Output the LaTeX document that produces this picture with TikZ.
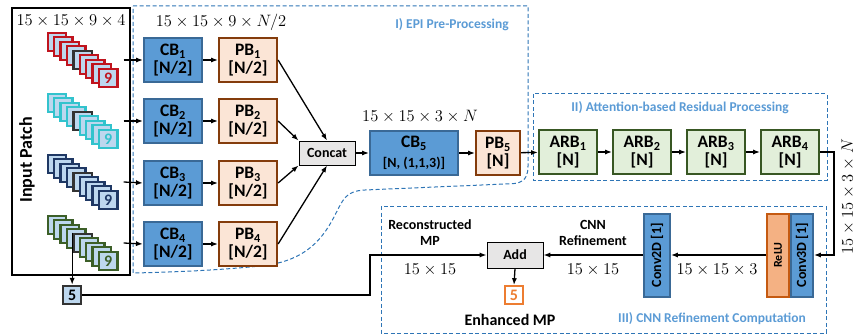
\documentclass[tikz,border=0pt]{standalone}
\usepackage{fix-cm}
\usepackage[no-math]{fontspec}
\setmainfont{Carlito}
\usetikzlibrary{arrows.meta,calc,positioning}
\definecolor{cbblue}{RGB}{91,155,213}
\definecolor{cbedge}{RGB}{58,105,150}
\definecolor{pbpeach}{RGB}{251,229,214}
\definecolor{pbbrown}{RGB}{132,60,12}
\definecolor{arbgreen}{RGB}{226,239,218}
\definecolor{arbedge}{RGB}{56,87,35}
\definecolor{relufill}{RGB}{244,177,131}
\definecolor{reluedge}{RGB}{197,90,17}
\definecolor{opgray}{RGB}{231,230,230}
\definecolor{regionblue}{RGB}{46,117,182}
\definecolor{labelblue}{RGB}{91,155,213}
\definecolor{viewfill}{RGB}{189,215,238}
\definecolor{stackred}{RGB}{192,20,30}
\definecolor{stackcyan}{RGB}{50,195,205}
\definecolor{stacknavy}{RGB}{31,56,100}
\definecolor{stackgreen}{RGB}{60,95,40}
\definecolor{outorange}{RGB}{237,125,49}
\tikzset{
  flow/.style={-{Latex[length=2.4mm,width=1.8mm]},line width=1.3pt},
  block/.style={line width=2.2pt,minimum width=58pt,minimum height=44pt,inner sep=1pt,
                align=center,font=\fontsize{17.5}{17.5}\selectfont\bfseries},
  convblock/.style={block,fill=cbblue,draw=cbedge},
  poolblock/.style={block,fill=pbpeach,draw=pbbrown},
  resblock/.style={block,fill=arbgreen,draw=arbedge},
  opbox/.style={draw=black,line width=1pt,fill=opgray,minimum width=56pt,minimum height=24pt,
                font=\fontsize{14}{14}\selectfont\bfseries},
  region/.style={draw=regionblue,line width=1pt,dash pattern=on 4pt off 2.5pt},
  regionlab/.style={text=labelblue,font=\fontsize{13.5}{13.5}\selectfont\bfseries},
  dimlab/.style={font=\fontsize{16.5}{16.5}\selectfont},
  txtlab/.style={align=center,font=\fontsize{14}{16}\selectfont\bfseries},
  view/.style={draw=#1,line width=2.4pt,fill=viewfill,minimum size=18.5pt,inner sep=0pt},
  vertblock/.style={line width=2pt,minimum width=22pt,minimum height=83pt,inner sep=0pt,
                    font=\fontsize{14}{14}\selectfont\bfseries},
}

\begin{document}
\begin{tikzpicture}[x=1pt,y=-1pt]
  \useasboundingbox (0,0) rectangle (864,334);

  % input patch frame
  \node[draw,line width=1.3pt,minimum width=118pt,minimum height=267pt,inner sep=0pt] (patch) at (71,141.5) {};
  \node[dimlab] (patchdim) at (71,21) {$15\times15\times9\times4$};
  \node[rotate=90,font=\fontsize{18}{18}\selectfont\bfseries] (patchlab) at (27,160) {Input Patch};

  % EPI pre-processing rows
  \draw[region] (133,6) -- (528,6) -- (528,166) .. controls (528,182) and (520,184) .. (505,184)
    -- (365,190) .. controls (345,191) and (343,200) .. (335,215)
    .. controls (320,245) and (300,262) .. (260,266)
    .. controls (220,270) and (180,272) .. (133,273) -- cycle;
  \node[regionlab] (epilab) at (452,25) {I) EPI Pre-Processing};
  \node[dimlab] (rowdim) at (221,22) {$15\times15\times9\times N/2$};

  \foreach \k/\y in {1/60,2/121,3/183,4/244}{
    \node[convblock] (cb\k) at (173,\y) {CB\textsubscript{\k}\\{[N/2]}};
    \node[poolblock] (pb\k) at (248,\y) {PB\textsubscript{\k}\\{[N/2]}};
    \draw[flow] (cb\k) -- (pb\k);
  }

  \node[opbox] (concat) at (327,153) {Concat};
  \draw[flow] (pb1.east) -- (concat.north);
  \draw[flow] (pb2.east) -- (concat.north west);
  \draw[flow] (pb3.east) -- (concat.south west);
  \draw[flow] (pb4.east) -- (concat.south);

  \node[convblock,minimum width=88pt] (cb5) at (414,153)
    {CB\textsubscript{5}\\[2pt]{\fontsize{14}{14}\selectfont[N, (1,1,3)]}};
  \node[poolblock,minimum width=44pt] (pb5) at (498,153) {PB\textsubscript{5}\\{[N]}};
  \node[dimlab] (cbdim) at (420,117) {$15\times15\times3\times N$};
  \draw[flow] (concat) -- (cb5);
  \draw[flow] (cb5) -- (pb5);

  % light-field view stacks
  \foreach \n/\c/\yy/\k in {red/stackred/42/1, cyan/stackcyan/103/2,
                            navy/stacknavy/164/3, green/stackgreen/225/4}{
    \foreach \i in {0,...,8}{
      \ifnum\i=4 \def\e{black!80}\else\edef\e{\c}\fi
      \node[view=\e] (\n\i) at (57+6.4*\i,\yy+4.5*\i) {};
    }
    \node[text=\c,font=\fontsize{16}{16}\selectfont\bfseries] (\n nine) at (\n8) {9};
    \draw[flow] ([xshift=5pt]\n4 -| \n8.east) -- (cb\k.west);
  }

  % centre view
  \node[view=black!80,minimum size=18pt,font=\fontsize{16}{16}\selectfont\bfseries] (center5)
    at (green4.west |- 0,295) {5};
  \draw[flow] (green4.north west) -- (center5);

  % attention-based residual blocks
  \draw[region] (533,94) rectangle (827,180);
  \node[regionlab] (arblab) at (680,108) {II) Attention-based Residual Processing};
  \foreach \k/\x in {1/568,2/642,3/716,4/790}{
    \node[resblock] (arb\k) at (\x,152) {ARB\textsubscript{\k}\\{[N]}};
  }
  \draw[flow] (pb5) -- (arb1);
  \foreach \a/\b in {1/2,2/3,3/4}
    \draw[flow] (arb\a) -- (arb\b);

  % CNN refinement
  \draw[region] (381,206) rectangle (826,333);
  \node[regionlab] (cnnlab) at (712,319) {III) CNN Refinement Computation};
  \node[vertblock,fill=cbblue,draw=cbedge] (conv3d) at (802,255) {\rotatebox{90}{Conv3D [1]}};
  \node[vertblock,fill=relufill,draw=reluedge,font=\fontsize{12}{12}\selectfont\bfseries,
        left=0pt of conv3d] (relu) {\rotatebox{90}{ReLU}};
  \node[vertblock,fill=cbblue,draw=cbedge,minimum width=26pt] (conv2d) at (657,255)
    {\rotatebox{90}{Conv2D [1]}};
  \node[opbox,minimum height=26pt] (add) at (515,255) {Add};
  \node[draw=outorange,line width=2pt,fill=white,minimum size=18pt,inner sep=0pt,
        text=outorange,font=\fontsize{16}{16}\selectfont\bfseries] (enh5) at (514,295) {5};

  \draw[flow] (arb4.east) -- ++(14,0) |- (conv3d.east);
  \node[dimlab,rotate=90] (arbdim) at (848,197) {$15\times15\times3\times N$};
  \draw[flow] (relu.west) -- (conv2d.east);
  \draw[flow] (conv2d.west) -- (add.east);
  \draw[flow] (add.south) -- (enh5.north);
  \draw[flow] (center5.east) -| (370,255) -- (add.west);

  \node[dimlab] (dim3) at (717,270) {$15\times15\times3$};
  \node[dimlab] (dim2) at (593,270) {$15\times15$};
  \node[dimlab] (dim1) at (430,270) {$15\times15$};
  \node[txtlab] (refinelab) at (593,233) {CNN\\Refinement};
  \node[txtlab] (reconlab) at (430,233) {Reconstructed\\MP};
  \node[font=\fontsize{16}{16}\selectfont\bfseries] (enhlab) at (510,320) {Enhanced MP};
\end{tikzpicture}
\end{document}
